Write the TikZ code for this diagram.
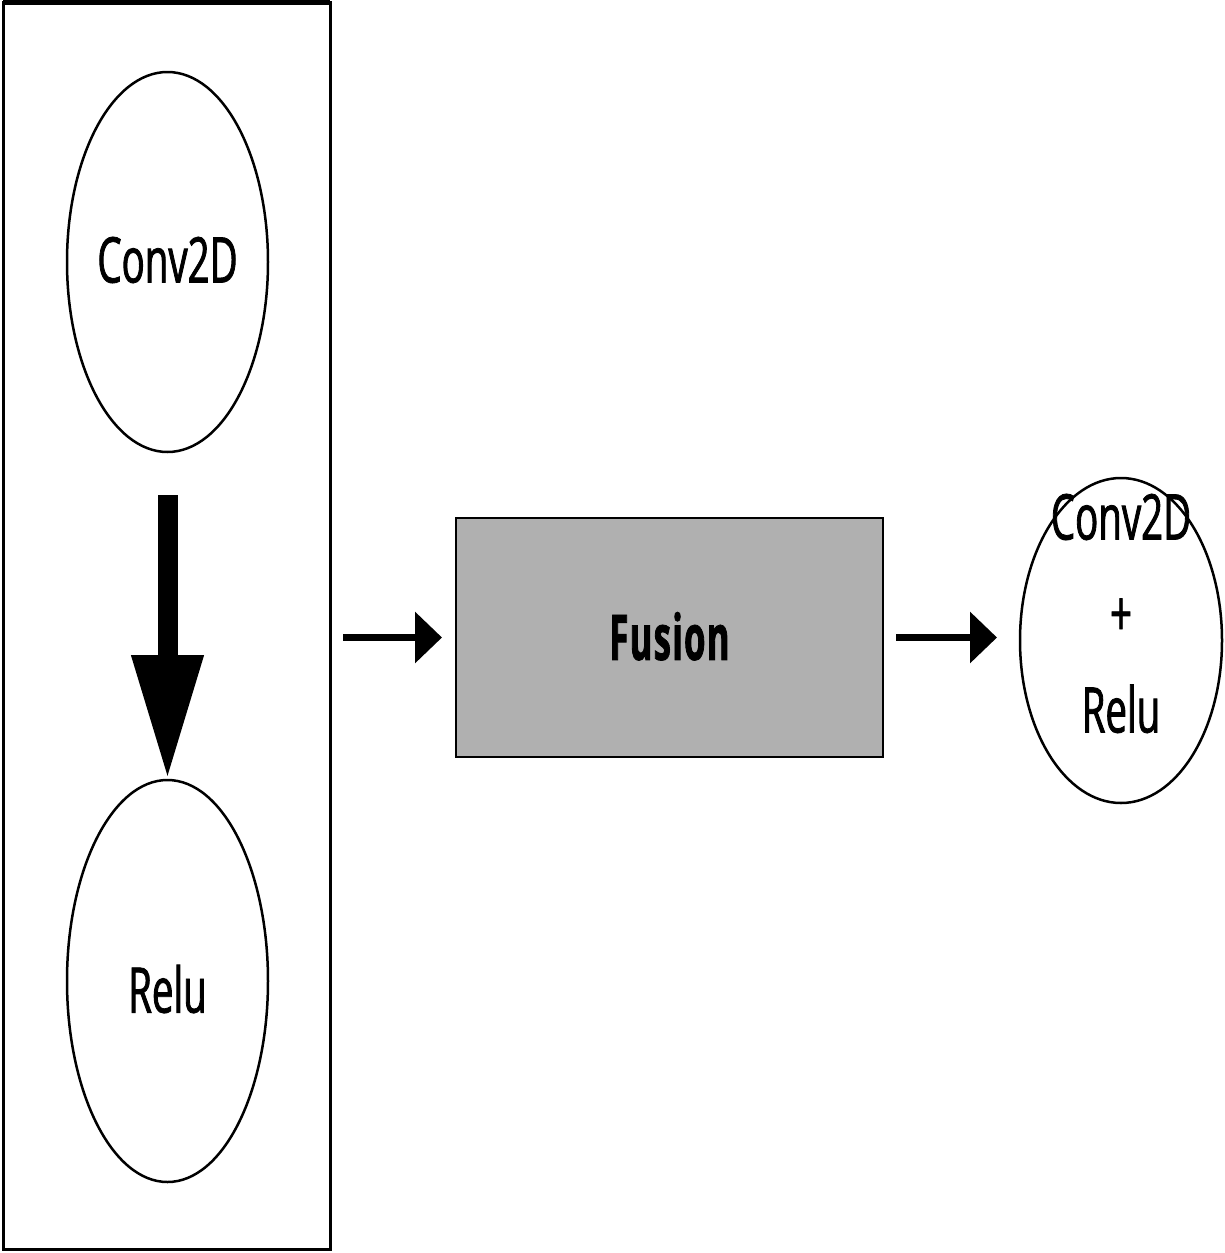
\documentclass[tikz,border=0pt]{standalone}
\usepackage{fontspec}
\setmainfont{Open Sans}[FakeStretch=0.61, FakeBold=1.3]
\newfontfamily\fusfont{Open Sans}[FakeStretch=0.55, LetterSpace=2, BoldFeatures={FakeBold=1.3}]
\usetikzlibrary{shapes.geometric,arrows.meta}
\definecolor{fusgray}{RGB}{176,176,176}
\begin{document}
\begin{tikzpicture}[x=1pt,y=-1pt,
  ell/.style={draw, ellipse, line width=2.5pt, inner sep=0pt, outer sep=0pt},
  lbl/.style={font=\fontsize{63}{96.5}\selectfont, align=center, inner sep=0pt},
  sarrow/.style={line width=7pt, -{Triangle[length=27pt,width=50pt]}},
  barrow/.style={line width=20pt, -{Triangle[length=125pt,width=67pt]}}]
\useasboundingbox (0,0) rectangle (1225,1253);
\fill[white] (0,0) rectangle (1225,1253);
% group box
\node[draw, line width=3pt, minimum width=327pt, minimum height=1247pt, inner sep=0pt, outer sep=0pt] (grp) at (166.5,626) {};
\draw[line width=5pt] (grp.north west) -- (grp.north east);
% left ellipses
\node[ell, minimum width=201pt, minimum height=380pt] (conv) at (167.5,262) {};
\node[lbl] (convtxt) at ([yshift=2pt]conv.center) {Conv2D};
\node[ell, minimum width=201pt, minimum height=402pt] (relu) at (167.5,981) {};
\node[lbl] (relutxt) at ([yshift=-8pt]relu.center) {Relu};
% fusion
\node[draw, fill=fusgray, line width=2.5pt, minimum width=427pt, minimum height=239pt, inner sep=0pt, outer sep=0pt,
  font=\fontsize{63}{63}\fusfont\bfseries] (fus) at (669.5,637.5) {\raisebox{3pt}{Fusion}};
% output ellipse
\node[ell, minimum width=202pt, minimum height=325pt] (out) at (1121,640.5) {};
\node[lbl] (outtxt) at ([yshift=27pt]out.center) {Conv2D\\+\\Relu};
% connectors
\draw[barrow, shorten <=43pt] (conv.south) -- (relu.north);
\draw[sarrow, shorten <=13pt, shorten >=14pt] (grp.east |- fus.west) -- (fus.west);
\draw[sarrow, shorten <=13pt, shorten >=23pt] (fus.east) -- (out.west |- fus.east);
\end{tikzpicture}
\end{document}
